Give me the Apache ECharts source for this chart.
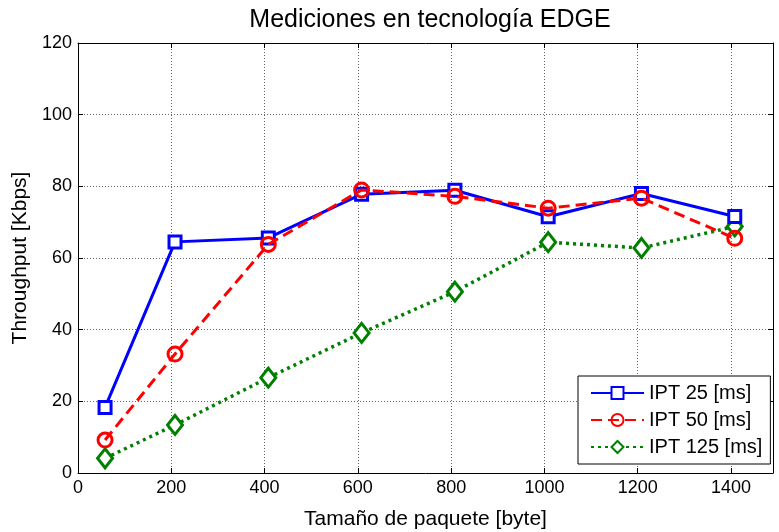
<!DOCTYPE html>
<html>
<head>
<meta charset="utf-8">
<script src="https://cdn.jsdelivr.net/npm/echarts@6/dist/echarts.min.js"></script>
<style>html,body{margin:0;padding:0;background:#fff}#c{width:779px;height:532px}</style>
</head>
<body>
<div id="c"></div>
<script>
var packetSizes = [58, 208, 408, 608, 808, 1008, 1208, 1408];
var ipt25 = [18.3, 64.5, 65.6, 77.8, 78.9, 71.5, 78.0, 71.6];
var ipt50 = [9.2, 33.2, 63.8, 79.0, 77.2, 73.9, 76.7, 65.5];
var ipt125 = [4.1, 13.4, 26.6, 39.1, 50.6, 64.4, 62.8, 68.8];
var seriesNames = ['IPT 25 [ms]', 'IPT 50 [ms]', 'IPT 125 [ms]'];

function pairs(ys) { return packetSizes.map(function (x, i) { return [x, ys[i]]; }); }

var font = 'Liberation Sans, Arial, sans-serif';
var chart = echarts.init(document.getElementById('c'), null, {renderer: 'canvas'});
function axisCommon() {
  return {
    axisLine: {show: true, onZero: false, lineStyle: {color: '#000', width: 1}},
    axisTick: {show: true, inside: true, length: 5, lineStyle: {color: '#000'}}
  };
}
chart.setOption({
  animation: false,
  backgroundColor: '#fff',
  title: {
    text: 'Mediciones en tecnología EDGE',
    left: 425, top: 3, textAlign: 'center',
    textStyle: {fontFamily: font, fontSize: 25, fontWeight: 'normal', color: '#000'}
  },
  grid: {left: 78, top: 43, right: 6, bottom: 59, show: false, containLabel: false, outerBoundsMode: 'none'},
  legend: {
    orient: 'vertical',
    left: 578, top: 376,
    padding: [7, 8, 7, 12],
    itemGap: 7,
    itemWidth: 53, itemHeight: 15,
    backgroundColor: '#fff',
    borderColor: '#000', borderWidth: 1,
    textStyle: {fontFamily: font, fontSize: 20, color: '#000'},
    data: seriesNames
  },
  xAxis: [
    Object.assign(axisCommon(), {
      type: 'value', min: 0, max: 1490, interval: 200,
      name: 'Tamaño de paquete [byte]', nameLocation: 'middle', nameGap: 36,
      nameTextStyle: {fontFamily: font, fontSize: 21, color: '#000'},
      axisLabel: {fontFamily: font, fontSize: 18, color: '#000', margin: 6, showMaxLabel: false,
        formatter: function (v) { return v % 200 === 0 ? String(v) : ''; }},
      splitLine: {show: true, lineStyle: {color: '#666', type: [1, 2], width: 1}}
    }),
    Object.assign(axisCommon(), {
      type: 'value', min: 0, max: 1490, interval: 200, position: 'top',
      axisLabel: {show: false}, splitLine: {show: false}
    })
  ],
  yAxis: [
    Object.assign(axisCommon(), {
      type: 'value', min: 0, max: 120, interval: 20,
      name: 'Throughput [Kbps]', nameLocation: 'middle', nameGap: 44,
      nameTextStyle: {fontFamily: font, fontSize: 21, color: '#000'},
      axisLabel: {fontFamily: font, fontSize: 18, color: '#000', margin: 6},
      splitLine: {show: true, lineStyle: {color: '#666', type: [1, 2], width: 1}}
    }),
    Object.assign(axisCommon(), {
      type: 'value', min: 0, max: 120, interval: 20, position: 'right',
      axisLabel: {show: false}, splitLine: {show: false}
    })
  ],
  series: [
    {
      name: seriesNames[0], type: 'line', data: pairs(ipt25),
      symbol: 'rect', symbolSize: 12,
      lineStyle: {color: '#0000ff', width: 3, type: 'solid'},
      itemStyle: {color: '#fff', borderColor: '#0000ff', borderWidth: 3},
      z: 3
    },
    {
      name: seriesNames[1], type: 'line', data: pairs(ipt50),
      symbol: 'circle', symbolSize: 14,
      lineStyle: {color: '#ff0000', width: 3, type: [11, 6]},
      itemStyle: {color: 'rgba(255,255,255,0)', borderColor: '#ff0000', borderWidth: 3},
      z: 4
    },
    {
      name: seriesNames[2], type: 'line', data: pairs(ipt125),
      symbol: 'diamond', symbolSize: [15, 19],
      lineStyle: {color: '#008000', width: 3.5, type: [3, 4]},
      itemStyle: {color: '#fff', borderColor: '#008000', borderWidth: 3},
      z: 2
    }
  ]
});
</script>
</body>
</html>
